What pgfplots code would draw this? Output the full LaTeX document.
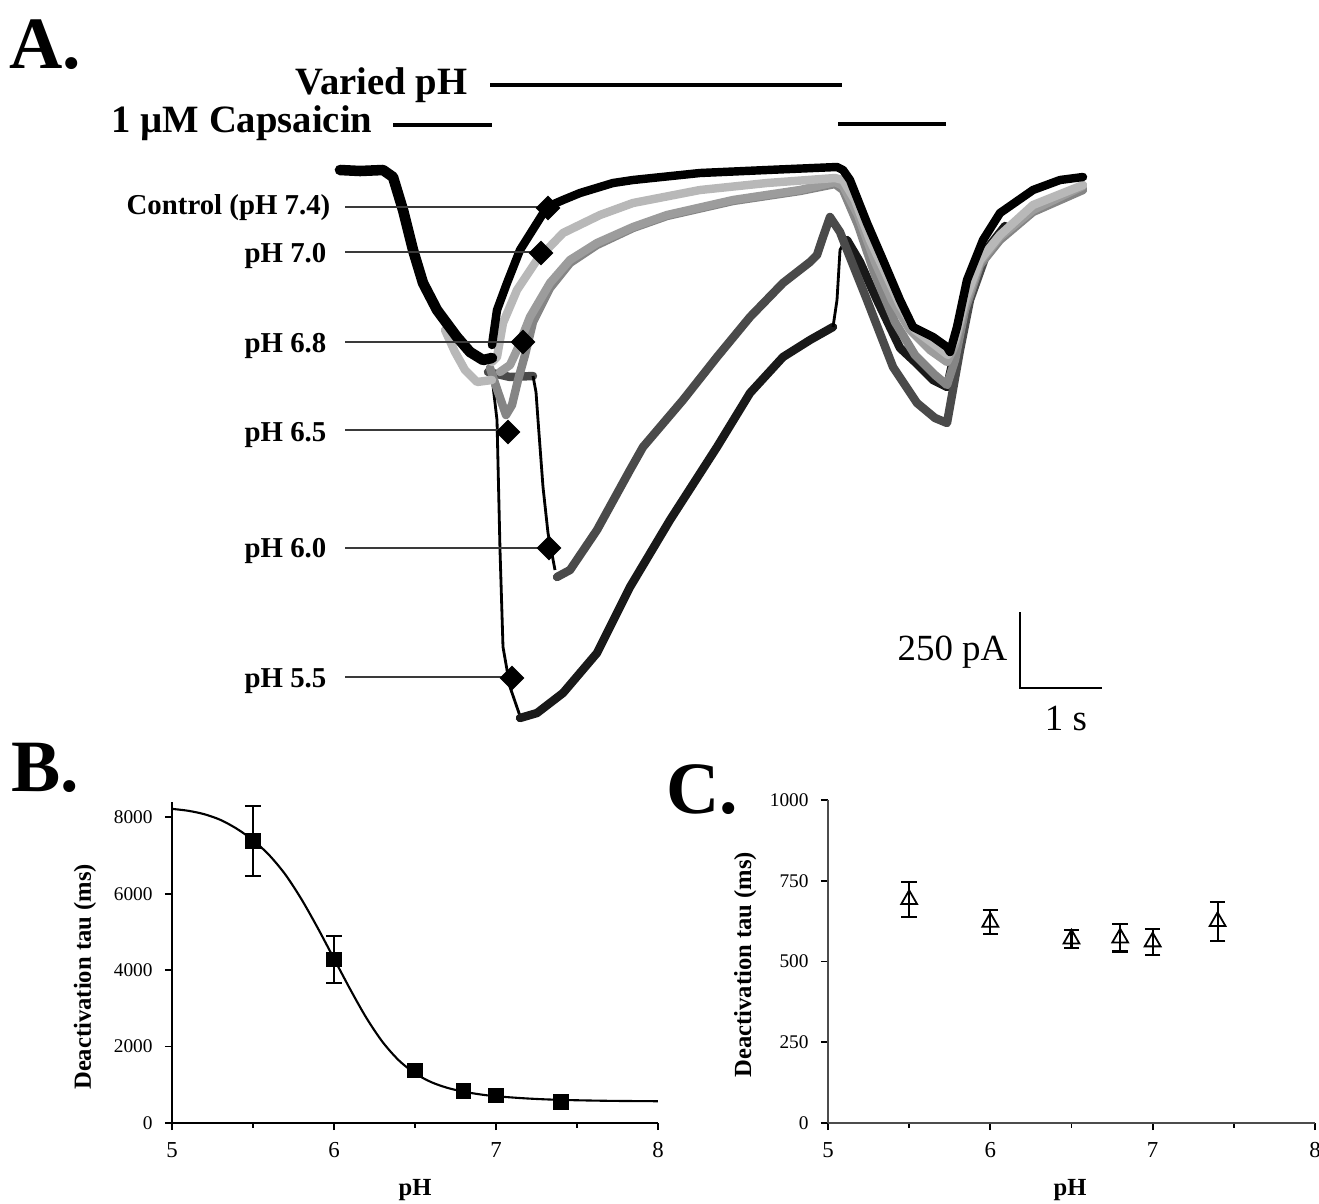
\documentclass[border=0pt]{standalone}
\usepackage{fontspec}
\setmainfont{Liberation Serif}
\usepackage{pgfplots}
\pgfplotsset{compat=1.18}

\definecolor{trLight}{HTML}{B8B8B8}
\definecolor{trMid}{HTML}{9C9C9C}
\definecolor{trGrey}{HTML}{858585}
\definecolor{trDark}{HTML}{4A4A4A}
\definecolor{lblLine}{HTML}{3A3A3A}

\pgfplotsset{
  tauaxis/.style={
    scale only axis, width=4.86cm,
    axis x line=bottom, axis y line=left,
    axis line style={-, line width=0.6pt},
    tick align=outside, major tick length=2pt, minor tick length=1.4pt,
    xmin=5, xmax=8, xtick={5,6,7,8}, minor x tick num=1,
    tick style={line width=0.5pt, black},
    x tick label style={font=\fontsize{6.5}{7}\selectfont},
    y tick label style={font=\fontsize{5.5}{6}\selectfont},
    /pgf/number format/assume math mode=true,
    /pgf/number format/1000 sep={},
    xlabel={\textbf{pH}}, ylabel={\textbf{Deactivation tau (ms)}},
    label style={font=\fontsize{7}{8}\selectfont},
    clip=false,
  },
  trace/.style={line width=2.4pt, line join=round, line cap=round},
  fast/.style={line width=0.8pt, line join=round},
}

\begin{document}
\begin{tikzpicture}
\path[use as bounding box] (0,0) rectangle (13.19cm,12.03cm);

% ---- panel A, drawn in picture pixels (y downwards) ----
\begin{axis}[
  at={(0,0)}, anchor=south west,
  scale only axis, width=13.19cm, height=12.03cm,
  xmin=0, xmax=1319, ymin=0, ymax=1203, y dir=reverse,
  hide axis, clip=false,
]
% pH 5.5 (black), fast fall then slow recovery
\addplot[fast, black] coordinates {(490,360) (497,420) (500,550) (503,647) (510,687) (520,716)};
\addplot[trace, black!90] coordinates {(520,718) (537,713) (563,693) (597,653) (630,587) (670,520) (717,447) (750,393) (783,357) (810,340) (833,327)};
\addplot[fast, black] coordinates {(833,327) (837,300) (840,250) (847,237)};
\addplot[trace, black!90] coordinates {(847,240) (860,262) (877,300) (900,348) (915,362) (933,380) (947,387) (953,360) (962,318) (975,275) (990,245) (1005,226)};
% pH 6.0 (dark grey)
\addplot[trace, trDark] coordinates {(488,372) (510,377) (533,376)};
\addplot[fast, black] coordinates {(533,376) (536,392) (538,420) (543,487) (548,533) (555,570)};
\addplot[trace, trDark] coordinates {(557,577) (570,570) (597,530) (630,470) (643,447) (683,400) (717,357) (750,317) (783,283) (810,262) (817,255) (823,237) (830,217) (840,232) (847,250) (867,300) (893,367) (917,403) (935,418) (947,423) (952,395) (960,350) (970,300) (985,258) (1000,238)};
% pH 6.5 (grey)
\addplot[trace, trGrey] coordinates {(490,368) (498,392) (506,415) (512,405) (518,380) (525,355) (533,322) (550,288) (570,263) (597,245) (633,228) (667,216) (733,201) (800,191) (835,184) (843,190) (858,225) (875,275) (895,322) (915,355) (935,375) (947,385) (955,360) (965,310) (980,265) (1000,240) (1033,212) (1083,190)};
% pH 6.8 (mid grey)
\addplot[trace, trMid] coordinates {(500,372) (510,365) (517,350) (530,317) (550,283) (570,260) (597,243) (633,227) (667,215) (733,200) (800,190) (835,182) (843,186) (858,215) (875,262) (892,300) (910,330) (930,350) (947,362) (955,345) (965,305) (980,262) (1000,237) (1033,210) (1083,186)};
% pH 7.0 (light grey)
\addplot[trace, trLight] coordinates {(492,362) (497,357) (503,323) (517,290) (537,260) (563,233) (600,215) (633,203) (700,190) (767,183) (835,178) (843,180) (855,200) (870,240) (885,272) (900,305) (915,330) (935,345) (948,355) (955,340) (965,300) (980,260) (1000,235) (1033,205) (1083,185)};
% common onset before the switch
\addplot[trace, trLight] coordinates {(445,330) (455,352) (465,370) (477,382) (492,380)};
\addplot[trace, black, line width=3pt] coordinates {(340,170) (360,171) (383,170) (393,177) (403,210) (413,250) (423,283) (437,310) (457,337) (470,352) (483,360) (492,358)};
% control pH 7.4 (black)
\addplot[trace, black] coordinates {(492,345) (497,310) (507,283) (520,250) (537,223) (547,207) (563,200) (580,193) (613,183) (633,180) (700,173) (767,170) (837,167) (843,170) (850,180) (867,223) (883,260) (900,300) (913,327) (933,337) (947,347) (950,352) (957,327) (967,280) (983,240) (1000,213) (1033,190) (1060,180) (1083,177)};

% label leader lines and diamonds
\addplot[lblLine, line width=0.6pt] coordinates {(345,207) (545,207)};
\addplot[lblLine, line width=0.6pt] coordinates {(345,252) (532,252)};
\addplot[lblLine, line width=0.6pt] coordinates {(345,342) (518,342)};
\addplot[lblLine, line width=0.6pt] coordinates {(345,430) (500,430)};
\addplot[lblLine, line width=0.6pt] coordinates {(345,548) (545,548)};
\addplot[lblLine, line width=0.6pt] coordinates {(345,677) (508,677)};
\addplot[only marks, mark=square*, mark size=2.3pt, mark options={rotate=45, black}]
  coordinates {(548,208) (541,253) (523,342) (508,432) (549,548) (512,678)};

% application bars
\addplot[black, line width=1.2pt] coordinates {(490,85) (842,85)};
\addplot[black, line width=1.1pt] coordinates {(393,125) (492,125)};
\addplot[black, line width=1.1pt] coordinates {(838,124) (946,124)};
% scale bar
\addplot[black, line width=0.6pt] coordinates {(1020,612) (1020,688) (1102,688)};

\node[font=\fontsize{21}{21}\selectfont\bfseries] at (axis cs:45,45) {A.};
\node[font=\fontsize{21}{21}\selectfont\bfseries] at (axis cs:45,768) {B.};
\node[font=\fontsize{21}{21}\selectfont\bfseries] at (axis cs:702,790) {C.};
\node[anchor=east, inner sep=0pt, font=\fontsize{11}{12}\selectfont\bfseries] at (axis cs:468,85) {Varied pH};
\node[anchor=east, inner sep=0pt, font=\fontsize{11}{12}\selectfont\bfseries] at (axis cs:373,123) {1 µM Capsaicin};
\node[anchor=east, inner sep=0pt, font=\fontsize{8.2}{9}\selectfont\bfseries] at (axis cs:331,208) {Control (pH 7.4)};
\node[anchor=east, inner sep=0pt, font=\fontsize{8.2}{9}\selectfont\bfseries] at (axis cs:327,256) {pH 7.0};
\node[anchor=east, inner sep=0pt, font=\fontsize{8.2}{9}\selectfont\bfseries] at (axis cs:327,346) {pH 6.8};
\node[anchor=east, inner sep=0pt, font=\fontsize{8.2}{9}\selectfont\bfseries] at (axis cs:327,435) {pH 6.5};
\node[anchor=east, inner sep=0pt, font=\fontsize{8.2}{9}\selectfont\bfseries] at (axis cs:327,551) {pH 6.0};
\node[anchor=east, inner sep=0pt, font=\fontsize{8.2}{9}\selectfont\bfseries] at (axis cs:327,681) {pH 5.5};
\node[anchor=east, inner sep=0pt, font=\fontsize{10.5}{11}\selectfont] at (axis cs:1008,652) {250 pA};
\node[inner sep=0pt, font=\fontsize{10.5}{11}\selectfont] at (axis cs:1066,718) {1 s};
\end{axis}

% ---- panel B ----
\begin{axis}[
  tauaxis, at={(1.72cm,0.80cm)}, anchor=south west,
  height=3.21cm, ymin=0, ymax=8400, ytick={0,2000,4000,6000,8000},
  xlabel style={at={(axis description cs:0.5,-0.209)}, anchor=center},
  ylabel style={at={(axis description cs:-0.179,0.455)}, anchor=center},
]
\addplot[black, line width=0.6pt, smooth] coordinates {
  (5.0,8220) (5.1,8170) (5.2,8080) (5.3,7930) (5.4,7700) (5.5,7400) (5.6,7010)
  (5.7,6500) (5.8,5850) (5.9,5100) (6.0,4300) (6.1,3500) (6.2,2750) (6.3,2120)
  (6.4,1640) (6.5,1300) (6.6,1070) (6.7,920) (6.8,820) (6.9,750) (7.0,700)
  (7.2,640) (7.4,605) (7.7,580) (8.0,570)};
\addplot[only marks, mark=square*, mark size=2pt, black,
  error bars/.cd, y dir=both, y explicit,
  error bar style={line width=0.6pt}, error mark options={rotate=90, mark size=2.2pt, line width=0.6pt}]
  coordinates {
  (5.5,7374) +- (0,910)
  (6.0,4278) +- (0,610)
  (6.5,1374) +- (0,120)
  (6.8,843) +- (0,60)
  (7.0,713) +- (0,50)
  (7.4,548) +- (0,40)};
\end{axis}

% ---- panel C ----
\begin{axis}[
  tauaxis, at={(8.28cm,0.80cm)}, anchor=south west,
  width=4.87cm, height=3.23cm, ymin=0, ymax=1000, ytick={0,250,500,750,1000},
  axis line style={-, line width=0.6pt, black!70},
  xlabel style={at={(axis description cs:0.497,-0.207)}, anchor=center},
  ylabel style={at={(axis description cs:-0.17,0.49)}, anchor=center},
]
\addplot[only marks, mark=triangle, mark size=2.6pt, black, mark options={line width=0.5pt},
  error bars/.cd, y dir=both, y explicit,
  error bar style={line width=0.6pt}, error mark options={rotate=90, mark size=2.2pt, line width=0.6pt}]
  coordinates {
  (5.5,692) +- (0,53)
  (6.0,622) +- (0,37)
  (6.5,570) +- (0,28)
  (6.8,573) +- (0,42)
  (7.0,561) +- (0,40)
  (7.4,624) +- (0,60)};
\end{axis}
\end{tikzpicture}
\end{document}
